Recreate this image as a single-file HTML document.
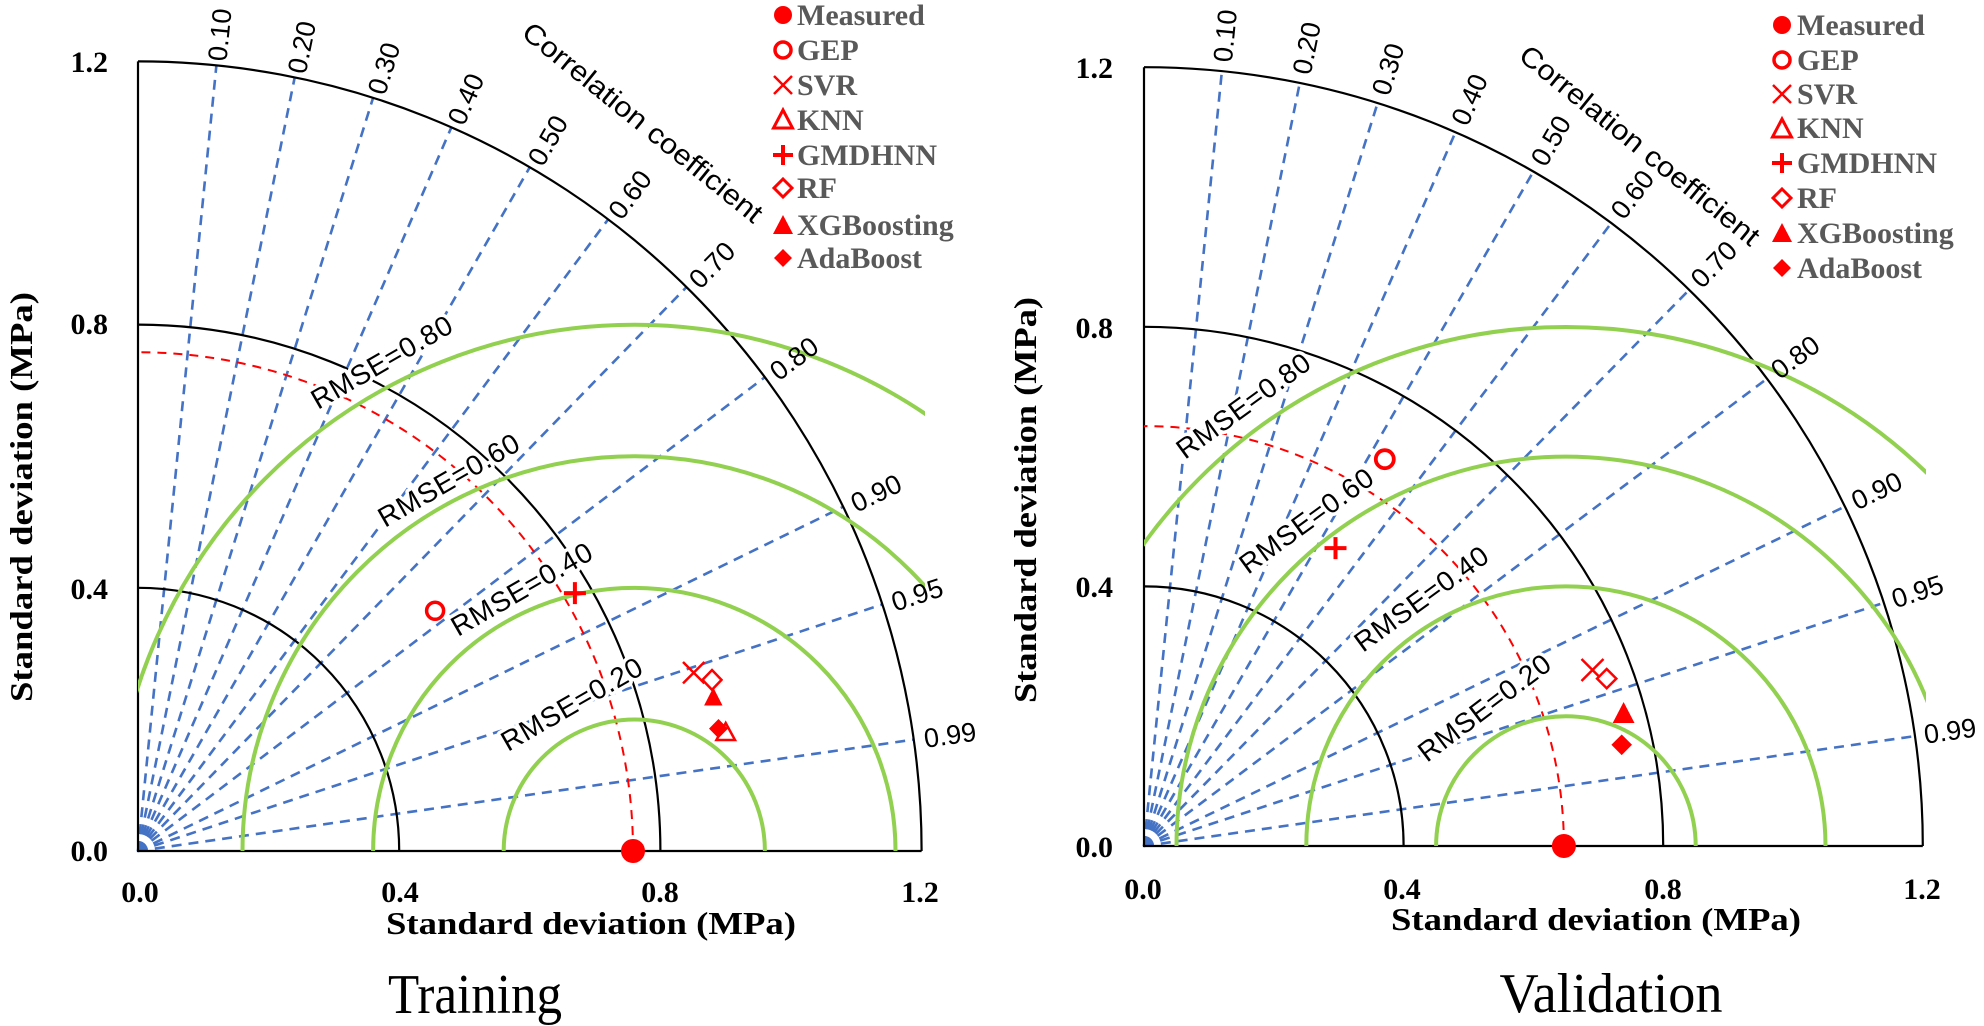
<!DOCTYPE html>
<html><head><meta charset="utf-8"><style>
html,body{margin:0;padding:0;background:#fff}
svg{display:block}
.tk{font-family:"Liberation Serif",serif;font-weight:bold;font-size:30px;fill:#000}
.ttl{font-family:"Liberation Serif",serif;font-weight:bold;font-size:32px;fill:#000}
.cl{font-family:"Liberation Sans",sans-serif;font-size:27px;fill:#000}
.rm{font-family:"Liberation Sans",sans-serif;font-size:28px;fill:#000;stroke:#fff;stroke-width:7px;paint-order:stroke;stroke-linejoin:round}
.lg{font-family:"Liberation Serif",serif;font-weight:bold;font-size:30px;fill:#595959}
.big{font-family:"Liberation Serif",serif;font-size:56px;fill:#000}
.bl{stroke:#4472C4;stroke-width:2.6;stroke-dasharray:10 7;fill:none}
.bk{stroke:#000;stroke-width:2.2;fill:none}
.gr{stroke:#92D050;stroke-width:4;fill:none}
.rd{stroke:#FF0000;stroke-width:2;stroke-dasharray:9 7;fill:none}
</style></head><body>
<svg width="1984" height="1026" viewBox="0 0 1984 1026" xmlns="http://www.w3.org/2000/svg">
<defs>
<clipPath id="cl1"><rect x="0" y="-900" width="787" height="900"/></clipPath>
<clipPath id="cl2"><rect x="0" y="-900" width="782" height="900"/></clipPath>
</defs>

<!-- ============ LEFT (Training) ============ -->
<g transform="translate(138,851)">
  <g class="bl">
    <line x1="0" y1="0" x2="78.4" y2="-785.6"/>
    <line x1="0" y1="0" x2="156.7" y2="-773.6"/>
    <line x1="0" y1="0" x2="235.1" y2="-753.2"/>
    <line x1="0" y1="0" x2="313.4" y2="-723.7"/>
    <line x1="0" y1="0" x2="391.8" y2="-683.8"/>
    <line x1="0" y1="0" x2="470.2" y2="-631.7"/>
    <line x1="0" y1="0" x2="548.5" y2="-563.9"/>
    <line x1="0" y1="0" x2="626.9" y2="-473.8"/>
    <line x1="0" y1="0" x2="705.2" y2="-344.2"/>
    <line x1="0" y1="0" x2="744.4" y2="-246.6"/>
    <line x1="0" y1="0" x2="775.8" y2="-111.4"/>
  </g>
  <path class="bk" d="M0,-263.2 A261.2 263.2 0 0 1 261.2,0"/>
  <path class="bk" d="M0,-526.4 A522.4 526.4 0 0 1 522.4,0"/>
  <path class="bk" d="M0,-789.6 A783.6 789.6 0 0 1 783.6,0"/>
  <path class="bk" d="M0,-789.6 V0 H783.6"/>
  <path class="rd" d="M495,0 A495 498.8 0 0 0 0,-498.8"/>
</g>
<g class="rm">
  <text x="318" y="410" transform="rotate(-30 318 410)" textLength="158">RMSE=0.80</text>
  <text x="385" y="528" transform="rotate(-30 385 528)" textLength="158">RMSE=0.60</text>
  <text x="458" y="637" transform="rotate(-30 458 637)" textLength="158">RMSE=0.40</text>
  <text x="508" y="752" transform="rotate(-30 508 752)" textLength="158">RMSE=0.20</text>
</g>
<g transform="translate(138,851)">
  <g clip-path="url(#cl1)" class="gr">
    <path d="M365.7,0 A130.6 131.6 0 0 1 626.9,0"/>
    <path d="M235.1,0 A261.2 263.2 0 0 1 757.5,0"/>
    <path d="M104.5,0 A391.8 394.8 0 0 1 888.1,0"/>
    <path d="M-26.1,0 A522.4 526.4 0 0 1 1018.7,0"/>
  </g>
  <circle cx="495" cy="0" r="12" fill="#f00"/>
  <circle cx="297.1" cy="-240.2" r="8.5" fill="none" stroke="#f00" stroke-width="3.5"/>
  <path d="M425.9,-257.9 H447.9 M436.9,-268.9 V-246.9" stroke="#f00" stroke-width="4"/>
  <path d="M545,-189 L566.4,-167.6 M566.4,-189 L545,-167.6" stroke="#f00" stroke-width="2.5"/>
  <path d="M574,-181 L583.5,-171.1 L574,-161.2 L564.5,-171.1 Z" fill="#fff" stroke="#f00" stroke-width="2.5"/>
  <path d="M575.3,-163.5 L584.5,-145.5 L566.1,-145.5 Z" fill="#f00"/>
  <path d="M587.7,-128 L597,-111 L578.4,-111 Z" fill="#fff" stroke="#f00" stroke-width="2.5"/>
  <path d="M580.5,-132 L590,-122.4 L580.5,-112.8 L571,-122.4 Z" fill="#f00"/>
</g>
<g class="cl" transform="translate(138,851)">
  <text transform="rotate(-84.26)" x="794" y="9">0.10</text>
  <text transform="rotate(-78.46)" x="794" y="9">0.20</text>
  <text transform="rotate(-72.54)" x="794" y="9">0.30</text>
  <text transform="rotate(-66.42)" x="794" y="9">0.40</text>
  <text transform="rotate(-60)" x="794" y="9">0.50</text>
  <text transform="rotate(-53.13)" x="794" y="9">0.60</text>
  <text transform="rotate(-45.57)" x="794" y="9">0.70</text>
  <text transform="rotate(-36.87)" x="794" y="9">0.80</text>
  <text transform="rotate(-25.84)" x="794" y="9">0.90</text>
  <text transform="rotate(-18.19)" x="794" y="9">0.95</text>
  <text transform="rotate(-8.11)" x="794" y="9">0.99</text>
</g>
<text class="cl" x="643" y="132" text-anchor="middle" transform="rotate(39 643 122)" textLength="300" lengthAdjust="spacingAndGlyphs" style="font-size:28px">Correlation coefficient</text>
<g class="tk" text-anchor="end">
  <text x="108" y="72">1.2</text>
  <text x="108" y="334">0.8</text>
  <text x="108" y="599">0.4</text>
  <text x="108" y="861">0.0</text>
</g>
<g class="tk" text-anchor="middle">
  <text x="140" y="902">0.0</text>
  <text x="400" y="902">0.4</text>
  <text x="660" y="902">0.8</text>
  <text x="920" y="902">1.2</text>
</g>
<text class="ttl" x="591" y="934" text-anchor="middle" textLength="410" lengthAdjust="spacingAndGlyphs">Standard deviation (MPa)</text>
<text class="ttl" x="0" y="0" text-anchor="middle" transform="translate(32,497) rotate(-90)" textLength="410" lengthAdjust="spacingAndGlyphs">Standard deviation (MPa)</text>
<text class="big" x="475" y="1013" text-anchor="middle" textLength="174" lengthAdjust="spacingAndGlyphs">Training</text>
<g>
  <circle cx="783" cy="15" r="9" fill="#f00"/>
  <circle cx="783" cy="50" r="8" fill="none" stroke="#f00" stroke-width="3.5"/>
  <path d="M774,76 L792,94 M792,76 L774,94" stroke="#f00" stroke-width="2.5"/>
  <path d="M783,110 L792.5,128 L773.5,128 Z" fill="none" stroke="#f00" stroke-width="3"/>
  <path d="M773,155 H793 M783,145 V165" stroke="#f00" stroke-width="4"/>
  <path d="M783,179 L792,188 L783,197 L774,188 Z" fill="none" stroke="#f00" stroke-width="3"/>
  <path d="M783,215 L793,234 L773,234 Z" fill="#f00"/>
  <path d="M783,249 L792,258 L783,267 L774,258 Z" fill="#f00"/>
</g>
<g class="lg">
  <text x="797" y="25">Measured</text>
  <text x="797" y="60">GEP</text>
  <text x="797" y="95">SVR</text>
  <text x="797" y="130">KNN</text>
  <text x="797" y="165">GMDHNN</text>
  <text x="797" y="198">RF</text>
  <text x="797" y="235">XGBoosting</text>
  <text x="797" y="268">AdaBoost</text>
</g>

<!-- ============ RIGHT (Validation) ============ -->
<g transform="translate(1144,846)">
  <g class="bl">
    <line x1="0" y1="0" x2="77.9" y2="-774.9"/>
    <line x1="0" y1="0" x2="155.8" y2="-763.1"/>
    <line x1="0" y1="0" x2="233.6" y2="-742.9"/>
    <line x1="0" y1="0" x2="311.5" y2="-713.8"/>
    <line x1="0" y1="0" x2="389.4" y2="-674.5"/>
    <line x1="0" y1="0" x2="467.3" y2="-623.0"/>
    <line x1="0" y1="0" x2="545.2" y2="-556.2"/>
    <line x1="0" y1="0" x2="623.0" y2="-467.3"/>
    <line x1="0" y1="0" x2="700.9" y2="-339.5"/>
    <line x1="0" y1="0" x2="739.9" y2="-243.2"/>
    <line x1="0" y1="0" x2="771.0" y2="-109.9"/>
  </g>
  <path class="bk" d="M0,-259.6 A259.6 259.6 0 0 1 259.6,0"/>
  <path class="bk" d="M0,-519.2 A519.2 519.2 0 0 1 519.2,0"/>
  <path class="bk" d="M0,-778.8 A778.8 778.8 0 0 1 778.8,0"/>
  <path class="bk" d="M0,-778.8 V0 H778.8"/>
  <path class="rd" d="M419.9,0 A419.9 419.9 0 0 0 0,-419.9"/>
</g>
<g class="rm">
  <text x="1185" y="460" transform="rotate(-36 1185 460)" textLength="158">RMSE=0.80</text>
  <text x="1248" y="575" transform="rotate(-36 1248 575)" textLength="158">RMSE=0.60</text>
  <text x="1363" y="653" transform="rotate(-36 1363 653)" textLength="158">RMSE=0.40</text>
  <text x="1427" y="763" transform="rotate(-37 1427 763)" textLength="158">RMSE=0.20</text>
</g>
<g transform="translate(1144,846)">
  <g clip-path="url(#cl2)" class="gr">
    <path d="M292.1,0 A129.8 129.8 0 0 1 551.7,0"/>
    <path d="M162.3,0 A259.6 259.6 0 0 1 681.5,0"/>
    <path d="M32.5,0 A389.4 389.4 0 0 1 811.3,0"/>
    <path d="M-97.3,0 A519.2 519.2 0 0 1 941.1,0"/>
  </g>
  <circle cx="419.9" cy="0" r="12" fill="#f00"/>
  <circle cx="240.8" cy="-386.8" r="9" fill="none" stroke="#f00" stroke-width="3.8"/>
  <path d="M180.5,-297.9 H202.5 M191.5,-308.9 V-286.9" stroke="#f00" stroke-width="4"/>
  <path d="M437.5,-187 L459.5,-165 M459.5,-187 L437.5,-165" stroke="#f00" stroke-width="2.5"/>
  <path d="M462.7,-177 L472.3,-167.4 L462.7,-157.8 L453.1,-167.4 Z" fill="#fff" stroke="#f00" stroke-width="2.5"/>
  <path d="M479.6,-144 L490.5,-123 L468.7,-123 Z" fill="#f00"/>
  <path d="M477.7,-111.5 L488,-101.2 L477.7,-90.9 L467.4,-101.2 Z" fill="#f00"/>
</g>
<g class="cl" transform="translate(1144,846)">
  <text transform="rotate(-84.26)" x="788" y="9">0.10</text>
  <text transform="rotate(-78.46)" x="788" y="9">0.20</text>
  <text transform="rotate(-72.54)" x="788" y="9">0.30</text>
  <text transform="rotate(-66.42)" x="788" y="9">0.40</text>
  <text transform="rotate(-60)" x="788" y="9">0.50</text>
  <text transform="rotate(-53.13)" x="788" y="9">0.60</text>
  <text transform="rotate(-45.57)" x="788" y="9">0.70</text>
  <text transform="rotate(-36.87)" x="788" y="9">0.80</text>
  <text transform="rotate(-25.84)" x="788" y="9">0.90</text>
  <text transform="rotate(-18.19)" x="788" y="9">0.95</text>
  <text transform="rotate(-8.11)" x="788" y="9">0.99</text>
</g>
<text class="cl" x="1640" y="155" text-anchor="middle" transform="rotate(39 1640 145)" textLength="300" lengthAdjust="spacingAndGlyphs" style="font-size:28px">Correlation coefficient</text>
<g class="tk" text-anchor="end">
  <text x="1113" y="78">1.2</text>
  <text x="1113" y="338">0.8</text>
  <text x="1113" y="597">0.4</text>
  <text x="1113" y="857">0.0</text>
</g>
<g class="tk" text-anchor="middle">
  <text x="1143" y="899">0.0</text>
  <text x="1402" y="899">0.4</text>
  <text x="1663" y="899">0.8</text>
  <text x="1922" y="899">1.2</text>
</g>
<text class="ttl" x="1596" y="930" text-anchor="middle" textLength="410" lengthAdjust="spacingAndGlyphs">Standard deviation (MPa)</text>
<text class="ttl" x="0" y="0" text-anchor="middle" transform="translate(1036,500) rotate(-90)" textLength="406" lengthAdjust="spacingAndGlyphs">Standard deviation (MPa)</text>
<text class="big" x="1611" y="1012" text-anchor="middle" textLength="223" lengthAdjust="spacingAndGlyphs">Validation</text>
<g>
  <circle cx="1782" cy="25" r="9" fill="#f00"/>
  <circle cx="1782" cy="60" r="8" fill="none" stroke="#f00" stroke-width="3.5"/>
  <path d="M1773,85 L1791,103 M1791,85 L1773,103" stroke="#f00" stroke-width="2.5"/>
  <path d="M1782,119 L1791.5,137 L1772.5,137 Z" fill="none" stroke="#f00" stroke-width="3"/>
  <path d="M1772,163 H1792 M1782,153 V173" stroke="#f00" stroke-width="4"/>
  <path d="M1782,189 L1791,198 L1782,207 L1773,198 Z" fill="none" stroke="#f00" stroke-width="3"/>
  <path d="M1782,223 L1792,242 L1772,242 Z" fill="#f00"/>
  <path d="M1782,259 L1791,268 L1782,277 L1773,268 Z" fill="#f00"/>
</g>
<g class="lg">
  <text x="1797" y="35">Measured</text>
  <text x="1797" y="70">GEP</text>
  <text x="1797" y="104">SVR</text>
  <text x="1797" y="138">KNN</text>
  <text x="1797" y="173">GMDHNN</text>
  <text x="1797" y="208">RF</text>
  <text x="1797" y="243">XGBoosting</text>
  <text x="1797" y="278">AdaBoost</text>
</g>
</svg>
</body></html>
